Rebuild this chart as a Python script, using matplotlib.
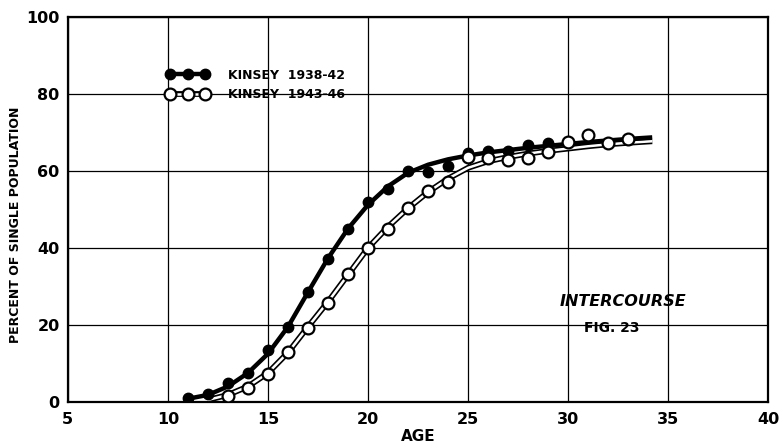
import matplotlib
matplotlib.use("Agg")
import matplotlib.pyplot as plt
from matplotlib.legend_handler import HandlerTuple

# plotted points
age_a = [11, 12, 13, 14, 15, 16, 17, 18, 19, 20, 21, 22, 23, 24, 25, 26, 27, 28, 29]
kinsey_a = [1.0, 2.0, 4.8, 7.6, 13.5, 19.5, 28.6, 37.2, 45.0, 51.8, 55.4, 60.0, 59.6, 61.3, 64.6, 65.1, 65.1, 66.8, 67.2]

age_b = [13, 14, 15, 16, 17, 18, 19, 20, 21, 22, 23, 24, 25, 26, 27, 28, 29, 30, 31, 32, 33]
kinsey_b = [1.5, 3.6, 7.3, 13.0, 19.3, 25.8, 33.3, 40.0, 44.8, 50.3, 54.7, 57.0, 63.6, 63.3, 62.8, 63.3, 65.0, 67.4, 69.3, 67.2, 68.2]

# smoothed curves as drawn in the figure
curve_age_a = [11, 12, 13, 14, 15, 16, 17, 18, 19, 20, 21, 22, 23, 24, 25, 26, 27, 28, 29, 30, 31, 32, 33, 34.2]
curve_a = [0.8, 1.8, 4.0, 7.5, 12.5, 19.5, 28.5, 37.3, 45.0, 51.2, 56.0, 59.5, 61.6, 63.0, 64.0, 64.8, 65.4, 66.0, 66.5, 67.0, 67.5, 67.9, 68.3, 68.7]
curve_age_b = [12, 13, 14, 15, 16, 17, 18, 19, 20, 21, 22, 23, 24, 25, 26, 27, 28, 29, 30, 31, 32, 33, 34.2]
curve_b = [0.5, 1.8, 4.0, 7.5, 12.8, 19.5, 26.0, 33.0, 40.0, 45.5, 50.3, 54.5, 58.0, 60.8, 62.5, 63.6, 64.5, 65.2, 65.8, 66.4, 66.9, 67.3, 67.7]

xticks = [5, 10, 15, 20, 25, 30, 35, 40]
yticks = [0, 20, 40, 60, 80, 100]

plt.rcParams['font.family'] = 'DejaVu Sans'
plt.rcParams['font.weight'] = 'bold'

fig = plt.figure(figsize=(7.8, 4.45), dpi=100)
ax = fig.add_axes([0.087, 0.097, 0.898, 0.865])

# open series: double line (black outline, white core)
ax.plot(curve_age_b, curve_b, color='black', lw=4.2, solid_capstyle='butt', zorder=3)
ax.plot(curve_age_b, curve_b, color='white', lw=1.8, solid_capstyle='butt', zorder=3.1)

# filled series: heavy line
ax.plot(curve_age_a, curve_a, color='black', lw=3.2, solid_capstyle='butt', zorder=4)
ax.plot(age_a, kinsey_a, 'o', color='black', ms=7.5, zorder=5)
ax.plot(age_b, kinsey_b, 'o', mfc='white', mec='black', mew=1.6, ms=8.5, zorder=6)

# legend handles
h_a = plt.Line2D([], [], color='black', lw=3.2, marker='o', ms=7.5)
h_b1 = plt.Line2D([], [], color='black', lw=4.2)
h_b2 = plt.Line2D([], [], color='white', lw=1.8, marker='o', mfc='white', mec='black', mew=1.6, ms=8.5)
ax.legend([h_a, (h_b1, h_b2)], ['KINSEY  1938-42', 'KINSEY  1943-46'],
          handler_map={tuple: HandlerTuple(ndivide=1)},
          numpoints=3, handlelength=3.4, handletextpad=1.5, labelspacing=0.55,
          frameon=False, loc='upper left', bbox_to_anchor=(0.125, 0.895),
          prop={'size': 9, 'weight': 'bold'})

ax.text(32.75, 26, 'INTERCOURSE', ha='center', va='center', fontsize=11.5,
        fontweight='bold', style='italic')
ax.text(32.2, 19.3, 'FIG. 23', ha='center', va='center', fontsize=10, fontweight='bold')

ax.set_xlim(5, 40)
ax.set_ylim(0, 100)
ax.set_xticks(xticks)
ax.set_yticks(yticks)
ax.tick_params(length=0, labelsize=11.5)
ax.tick_params(axis='y', pad=6)
ax.tick_params(axis='x', pad=7)
ax.grid(True, color='black', lw=0.9)
ax.set_axisbelow(True)
for s in ax.spines.values():
    s.set_linewidth(1.6)

ax.set_xlabel('AGE', fontsize=11, fontweight='bold', labelpad=2)
fig.text(16 / 780, 0.494, 'PERCENT OF SINGLE POPULATION', rotation=90,
         ha='center', va='center', fontsize=9, fontweight='bold')

fig.savefig('out.png', dpi=100)
